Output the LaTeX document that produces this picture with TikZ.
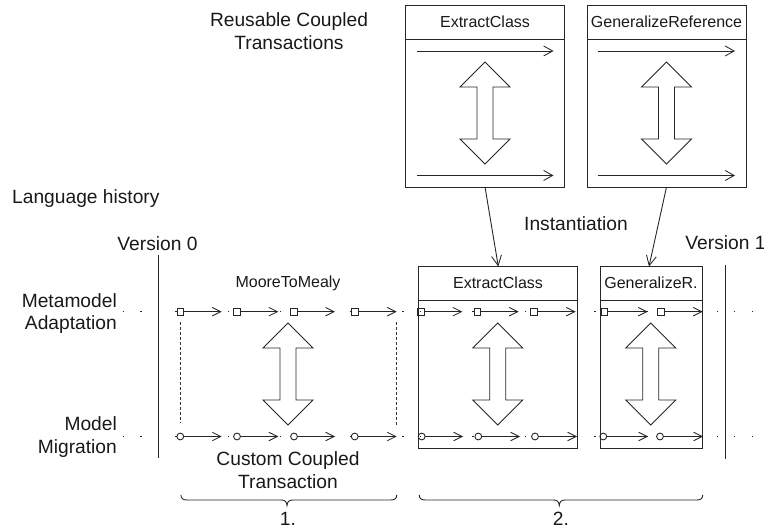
\documentclass[tikz,border=0pt]{standalone}
\usepackage{fontspec}
\setmainfont{Liberation Sans}
\usetikzlibrary{arrows.meta}
\tikzset{
  ln/.style={line width=0.9pt,draw=black!85},
  box/.style={ln,rectangle,inner sep=0pt,outer sep=0pt},
  arr/.style={ln,-{Straight Barb[length=9pt,width=10pt,line width=0.85pt]}},
  tarr/.style={ln,-{Straight Barb[length=8.5pt,width=8.5pt,line width=0.85pt]}},
  instarr/.style={ln,-{Straight Barb[length=10pt,width=10pt,line width=0.85pt]}},
  sq/.style={ln,rectangle,minimum size=6.6pt,inner sep=0pt,outer sep=0pt},
  circ/.style={ln,circle,minimum size=6.8pt,inner sep=0pt,outer sep=0pt},
  big/.style={font=\fontsize{19.2}{22.5}\selectfont,align=center,inner sep=0pt,text=black!90},
  mid/.style={font=\fontsize{16}{19}\selectfont,align=center,inner sep=0pt,text=black!90},
  dots/.style={line width=1.3pt,draw=black!85,dash pattern=on 1.3pt off 16.16pt},
  dash2/.style={line width=0.85pt,draw=black!80,dash pattern=on 3pt off 2pt},
}
\newcommand{\dblarrow}[2]{%
  \draw[ln,line join=miter] (#1,#2) -- ++(25,25) -- ++(-17,0) -- ++(0,52) -- ++(17,0)
     -- ++(-25,25) -- ++(-25,-25) -- ++(17,0) -- ++(0,-52) -- ++(-17,0) -- cycle;}
\newcommand{\bracepath}[4]{% left, tip, right, y-top
  \draw[ln] (#1,#4) .. controls (#1,#4+3.5) and (#1+2,#4+5) .. (#1+6,#4+5)
    -- (#2-6,#4+5) .. controls (#2-2,#4+5) and (#2-0.5,#4+6.5) .. (#2,#4+10.5)
    .. controls (#2+0.5,#4+6.5) and (#2+2,#4+5) .. (#2+6,#4+5)
    -- (#3-6,#4+5) .. controls (#3-2,#4+5) and (#3,#4+3.5) .. (#3,#4);}
\begin{document}
\begin{tikzpicture}[x=1pt,y=-1pt]
\useasboundingbox (0,0) rectangle (764,529);
% dotted time lines
\coordinate (dtl) at (123,311.7); \coordinate (dtr) at (753,311.7);
\coordinate (dbl) at (123,436.5); \coordinate (dbr) at (753,436.5);
\draw[dots] (dtl) -- (dtr);
\draw[dots] (dbl) -- (dbr);
% version lines
\coordinate (v0t) at (158,255); \coordinate (v0b) at (158,458.5);
\coordinate (v1t) at (725,265); \coordinate (v1b) at (725,459);
\draw[ln] (v0t) -- (v0b);
\draw[ln] (v1t) -- (v1b);
% top boxes
\node[box,minimum width=158.5pt,minimum height=181.5pt] (tc1) at (484.75,96.25) {};
\node[box,minimum width=159pt,minimum height=181.5pt] (tc2) at (666.5,96.25) {};
\draw[ln] (tc1.west |- 0,39.5) -- (tc1.east |- 0,39.5);
\draw[ln] (tc2.west |- 0,39.5) -- (tc2.east |- 0,39.5);
\node[mid] (tc1l) at (485,22) {ExtractClass};
\node[mid] (tc2l) at (666.5,22) {GeneralizeReference};
\coordinate (a1s) at (417,51); \coordinate (a1e) at (553.5,51);
\coordinate (a2s) at (417,175.5); \coordinate (a2e) at (553.5,175.5);
\coordinate (a3s) at (598,51); \coordinate (a3e) at (735,51);
\coordinate (a4s) at (598,175.5); \coordinate (a4e) at (735,175.5);
\draw[arr] (a1s) -- (a1e);
\draw[arr] (a2s) -- (a2e);
\draw[arr] (a3s) -- (a3e);
\draw[arr] (a4s) -- (a4e);
\dblarrow{485}{62}
\dblarrow{666.5}{62}
% lower boxes
\node[box,minimum width=158.5pt,minimum height=181.6pt] (cc1) at (497.75,357.5) {};
\node[box,minimum width=102.5pt,minimum height=181.6pt] (cc2) at (651.25,357.5) {};
\draw[ln] (cc1.west |- 0,300) -- (cc1.east |- 0,300);
\draw[ln] (cc2.west |- 0,300) -- (cc2.east |- 0,300);
\node[mid] (cc1l) at (498,283) {ExtractClass};
\node[mid] (cc2l) at (651,283) {GeneralizeR.};
\node[mid] (ml) at (288,283) {MooreToMealy};
\dblarrow{288}{323}
\dblarrow{497.7}{323}
\dblarrow{650.7}{323}
% dashed sides
\coordinate (d1t) at (180.5,322); \coordinate (d1b) at (180.5,423);
\coordinate (d2t) at (396,322); \coordinate (d2b) at (396,425);
\draw[dash2] (d1t) -- (d1b);
\draw[dash2] (d2t) -- (d2b);
% instantiation
\coordinate (i1s) at (485,187); \coordinate (i1e) at (498.3,266.5);
\coordinate (i2s) at (666.5,187); \coordinate (i2e) at (649,266.5);
\draw[instarr] (i1s) -- (i1e);
\draw[instarr] (i2s) -- (i2e);
% transactions on the time lines
\foreach \i/\a/\b in {1/180.3/221.7,2/237/278.3,3/294/335,4/354.7/396.7,5/421/462.3,6/477.5/518.7,7/534/575.7,8/604.3/647.7,9/661/702.7}{
  \node[sq] (s\i) at (\a,311.7) {};
  \coordinate (se\i) at (\b,311.7);
  \draw[tarr] (s\i) -- (se\i);
}
\foreach \i/\a/\b in {1/180.3/221.7,2/237/278.3,3/294/335,4/354.7/396.7,5/421.7/463,6/478.3/520,7/535/577,8/603.3/648,9/660/703}{
  \node[circ] (c\i) at (\a,436.5) {};
  \coordinate (ce\i) at (\b,436.5);
  \draw[tarr] (c\i) -- (ce\i);
}
% texts
\node[big] (reuse) at (289,31) {Reusable Coupled\\Transactions};
\node[big,anchor=west] (hist) at (12,199) {Language history};
\node[big] (inst) at (576,224) {Instantiation};
\node[big] (v0) at (157.5,244) {Version 0};
\node[big] (v1) at (725.5,243) {Version 1};
\node[big,align=right,anchor=east] (meta) at (117,313.5) {Metamodel\\Adaptation};
\node[big,align=right,anchor=east] (mig) at (117,437) {Model\\Migration};
\node[big] (cust) at (288,470) {Custom Coupled\\Transaction};
\node[big] (one) at (288,519) {1.};
\node[big] (two) at (561,519) {2.};
% braces
\bracepath{181}{287}{396.7}{495}
\bracepath{419.3}{559.3}{702.7}{495}
\end{tikzpicture}
\end{document}
